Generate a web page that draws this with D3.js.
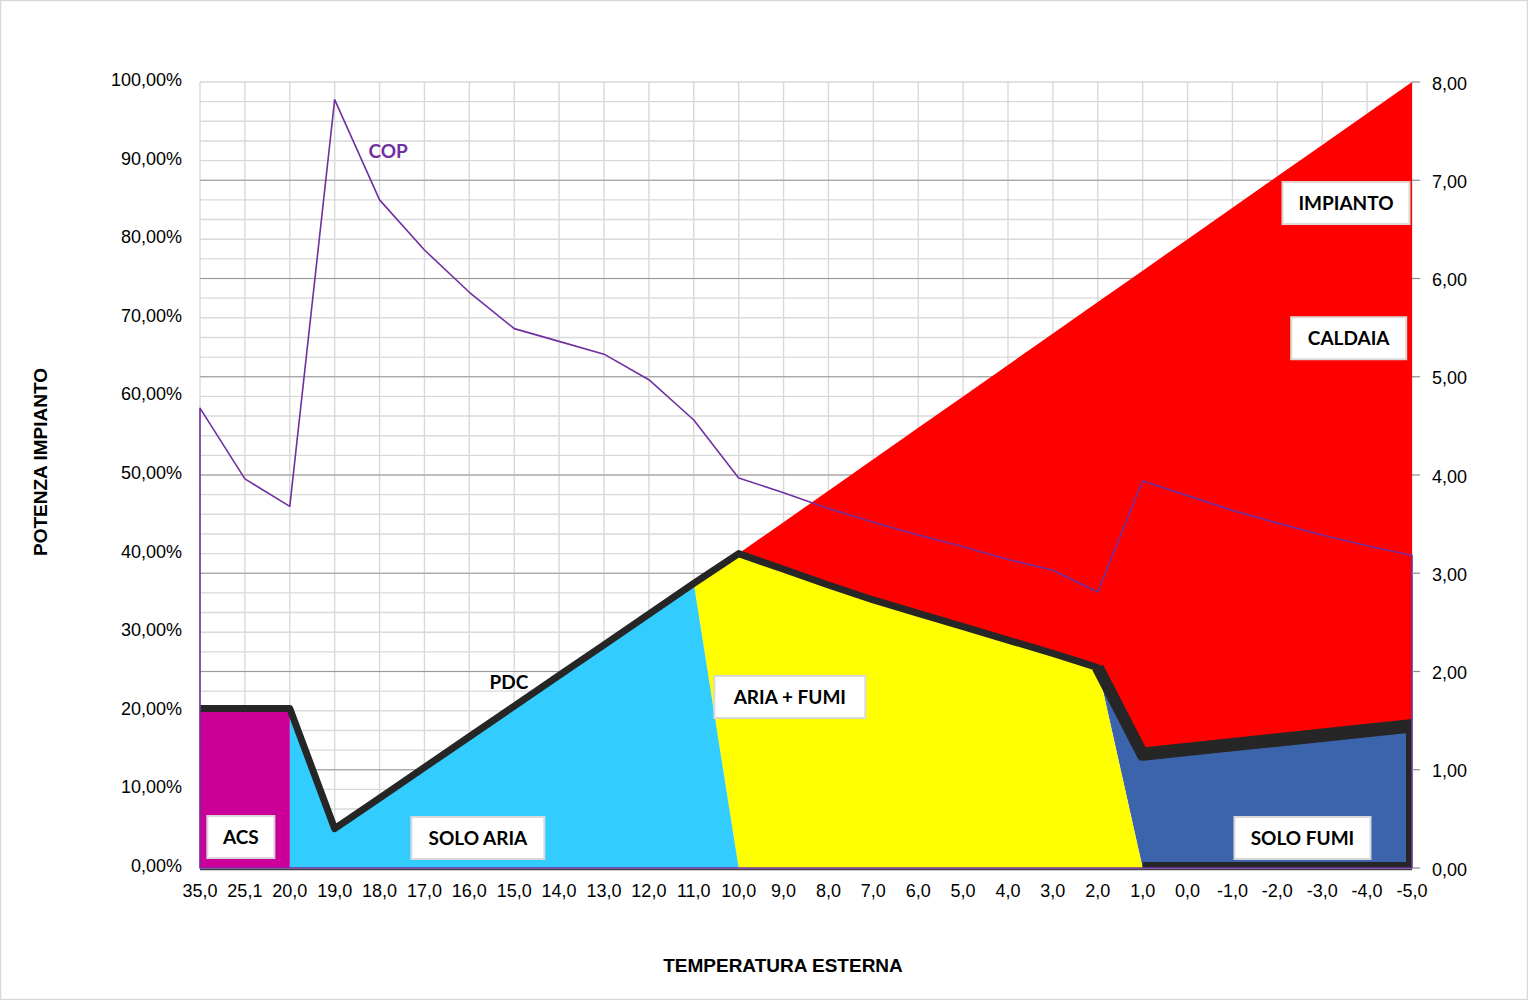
<!DOCTYPE html>
<html>
<head>
<meta charset="utf-8">
<script src="https://cdn.jsdelivr.net/npm/d3@7"></script>
<style>
  body { margin: 0; background: #fff; }
  svg { display: block; }
</style>
</head>
<body>
<svg id="chart" width="1528" height="1000"></svg>
<script>
// ---------------- DATA ----------------
const categories = [35.0, 25.1, 20.0, 19.0, 18.0, 17.0, 16.0, 15.0, 14.0, 13.0, 12.0, 11.0, 10.0,
  9.0, 8.0, 7.0, 6.0, 5.0, 4.0, 3.0, 2.0, 1.0, 0.0, -1.0, -2.0, -3.0, -4.0, -5.0];

// COP (right axis)
const cop = [4.68, 3.96, 3.68, 7.82, 6.80, 6.29, 5.86, 5.49, 5.36, 5.23, 4.97, 4.56, 3.97,
  3.82, 3.66, 3.52, 3.39, 3.27, 3.14, 3.03, 2.81, 3.94, 3.79, 3.64, 3.51, 3.39, 3.28, 3.18];

// PDC line (% of plant power)
const pdc = [20.3, 20.3, 20.3, 5.0, 8.9, 12.8, 16.7, 20.6, 24.5, 28.4, 32.3, 36.2, 40.0,
  38.0, 36.0, 34.1, 32.4, 30.7, 29.0, 27.3, 25.5, 14.9, 15.5, 16.1, 16.7, 17.3, 17.9, 18.5];

// IMPIANTO (total demand) from 10,0 to -5,0
const impiantoStart = 12;
const impianto = [40, 44, 48, 52, 56, 60, 64, 68, 72, 76, 80, 84, 88, 92, 96, 100];

// Area series: start index, bottom values, top values (%)
const acsStart = 0;
const acsBottom = [0, 0, 0];
const acsTop = [20.3, 20.3, 20.3];

const soloAriaStart = 2;
const soloAriaBottom = [0, 0, 0, 0, 0, 0, 0, 0, 0, 0, 0];
const soloAriaTop = [20.3, 5.0, 8.9, 12.8, 16.7, 20.6, 24.5, 28.4, 32.3, 36.2, 0];

const ariaFumiStart = 11;
const ariaFumiBottom = [36.2, 0, 0, 0, 0, 0, 0, 0, 0, 0, 0];
const ariaFumiTop = [36.2, 40.0, 38.0, 36.0, 34.1, 32.4, 30.7, 29.0, 27.3, 25.5, 0];

const soloFumiStart = 20;
const soloFumiBottom = [25.5, 0, 0, 0, 0, 0, 0, 0];
const soloFumiTop = [25.5, 14.4, 15.0, 15.6, 16.2, 16.8, 17.4, 18.0];

const leftTicks = [0, 10, 20, 30, 40, 50, 60, 70, 80, 90, 100];
const rightTicks = [0, 1, 2, 3, 4, 5, 6, 7, 8];

// Annotation labels (category index, % value)
const labelTexts = ["ACS", "SOLO ARIA", "ARIA + FUMI", "SOLO FUMI", "IMPIANTO", "CALDAIA"];

// ---------------- LAYOUT ----------------
const W = 1528, H = 1000;
const L = 200, R = 1412, T = 82, B = 868;
const svg = d3.select("#chart");

const loc = d3.formatLocale({decimal: ",", thousands: ".", grouping: [3], currency: ["€", ""], minus: "-"});
const fPct = v => loc.format(".2f")(v) + "%";
const fR = loc.format(".2f");
const fC = loc.format(".1f");

const x = d3.scalePoint().domain(d3.range(categories.length)).range([L, R]);
const yL = d3.scaleLinear().domain([0, 100]).range([B, T]);
const yR = d3.scaleLinear().domain([0, 8]).range([B, T]);

// outer frame
svg.append("rect").attr("x", 0.5).attr("y", 0.5).attr("width", W - 1).attr("height", H - 1)
  .attr("fill", "#fff").attr("stroke", "#d9d9d9").attr("stroke-width", 1.5);

svg.append("defs").append("clipPath").attr("id", "plotClip")
  .append("rect").attr("x", L).attr("y", T).attr("width", R - L).attr("height", B - T);

// gridlines
const grid = svg.append("g");
grid.selectAll(".hmin").data(d3.range(0, 100.001, 2.5)).join("line")
  .attr("x1", L).attr("x2", R).attr("y1", d => yL(d)).attr("y2", d => yL(d))
  .attr("stroke", "#d9d9d9").attr("stroke-width", 1.4);
grid.selectAll(".vg").data(d3.range(categories.length)).join("line")
  .attr("x1", d => x(d)).attr("x2", d => x(d)).attr("y1", T).attr("y2", B)
  .attr("stroke", "#d9d9d9").attr("stroke-width", 1.4);
grid.selectAll(".hmaj").data(rightTicks.slice(1, -1)).join("line")
  .attr("x1", L).attr("x2", R).attr("y1", d => yR(d)).attr("y2", d => yR(d))
  .attr("stroke", "#9a9a9a").attr("stroke-width", 1.2);

// areas
function seriesPts(start, bottom, top) {
  return top.map((t, k) => ({i: start + k, y0: bottom[k], y1: t}));
}
const areaGen = d3.area().x(d => x(d.i)).y0(d => yL(d.y0)).y1(d => yL(d.y1));
const areas = svg.append("g").attr("clip-path", "url(#plotClip)");

const impPts = impianto.map((v, k) => ({i: impiantoStart + k, y0: pdc[impiantoStart + k], y1: v}));
areas.append("path").attr("d", areaGen(impPts)).attr("fill", "#FF0000");
areas.append("path").attr("d", areaGen(seriesPts(soloFumiStart, soloFumiBottom, soloFumiTop))).attr("fill", "#3C64AC");
areas.append("path").attr("d", areaGen(seriesPts(ariaFumiStart, ariaFumiBottom, ariaFumiTop))).attr("fill", "#FFFF00");
areas.append("path").attr("d", areaGen(seriesPts(soloAriaStart, soloAriaBottom, soloAriaTop))).attr("fill", "#33CCFF");
areas.append("path").attr("d", areaGen(seriesPts(acsStart, acsBottom, acsTop))).attr("fill", "#CC0099");

// blue outline (top, right, bottom)
const sfPts = seriesPts(soloFumiStart, soloFumiBottom, soloFumiTop);
const outline = sfPts.map(d => [x(d.i), yL(d.y1)]);
const last = sfPts[sfPts.length - 1];
outline.push([x(last.i), yL(0)]);
outline.push([x(sfPts[1].i), yL(0)]);
areas.append("path").attr("d", d3.line()(outline)).attr("fill", "none")
  .attr("stroke", "#262626").attr("stroke-width", 12).attr("stroke-linejoin", "round");

// PDC line
const lineGen = d3.line().x((d, k) => x(k)).y(d => yL(d));
areas.append("path").attr("d", lineGen(pdc)).attr("fill", "none")
  .attr("stroke", "#262626").attr("stroke-width", 7).attr("stroke-linejoin", "round");

// bottom axis line
svg.append("line").attr("x1", L).attr("x2", R).attr("y1", B + 1.5).attr("y2", B + 1.5)
  .attr("stroke", "#404040").attr("stroke-width", 1.5);

// COP line (closed to the baseline at both ends)
const copPts = [[x(0), yR(0)]].concat(cop.map((v, k) => [x(k), yR(v)]), [[x(cop.length - 1), yR(0)]]);
svg.append("path").attr("d", d3.line()(copPts) + "Z").attr("fill", "none")
  .attr("stroke", "#7030A0").attr("stroke-width", 1.6).attr("stroke-linejoin", "round");

// left tick labels
svg.append("g").selectAll("text").data(leftTicks).join("text")
  .attr("x", 182).attr("y", d => yL(d) + 4).attr("text-anchor", "end")
  .attr("font-family", "Liberation Sans, Arial, sans-serif").attr("font-size", 18)
  .attr("fill", "#000").text(d => fPct(d));

// right ticks + labels
const rg = svg.append("g");
rg.selectAll("line").data(rightTicks).join("line")
  .attr("x1", R).attr("x2", R + 8).attr("y1", d => yR(d)).attr("y2", d => yR(d))
  .attr("stroke", "#8c8c8c").attr("stroke-width", 1.2);
rg.selectAll("text").data(rightTicks).join("text")
  .attr("x", 1432).attr("y", d => yR(d) + 7.5)
  .attr("font-family", "Liberation Sans, Arial, sans-serif").attr("font-size", 18)
  .attr("fill", "#000").text(d => fR(d));

// category labels
svg.append("g").selectAll("text").data(categories).join("text")
  .attr("x", (d, k) => x(k)).attr("y", 897).attr("text-anchor", "middle")
  .attr("font-family", "Liberation Sans, Arial, sans-serif").attr("font-size", 18)
  .attr("fill", "#000").text(d => fC(d));

// axis titles
svg.append("text").attr("transform", "translate(46.5,462) rotate(-90)")
  .attr("text-anchor", "middle").attr("font-family", "Liberation Sans, Arial, sans-serif")
  .attr("font-weight", "bold").attr("font-size", 19).text("POTENZA IMPIANTO");
svg.append("text").attr("x", 783).attr("y", 972)
  .attr("text-anchor", "middle").attr("font-family", "Liberation Sans, Arial, sans-serif")
  .attr("font-weight", "bold").attr("font-size", 19).text("TEMPERATURA ESTERNA");

// annotation boxes
const boxLayout = [
  {i: 0.91, v: 3.94, w: 67},
  {i: 6.19, v: 3.82, w: 133},
  {i: 13.14, v: 21.76, w: 151},
  {i: 24.56, v: 3.82, w: 136},
  {i: 25.53, v: 84.6, w: 127},
  {i: 25.59, v: 67.4, w: 115}
];
const xi = i => L + i * x.step();
const boxes = svg.append("g");
labelTexts.forEach((t, k) => {
  const b = boxLayout[k];
  const cx = xi(b.i), cy = yL(b.v);
  boxes.append("rect").attr("x", cx - b.w / 2).attr("y", cy - 21).attr("width", b.w).attr("height", 42)
    .attr("fill", "#fff").attr("stroke", "#d9d9d9").attr("stroke-width", 2);
  boxes.append("text").attr("x", cx).attr("y", cy + 7).attr("text-anchor", "middle")
    .attr("font-family", "Lato, Open Sans, sans-serif").attr("font-weight", "bold")
    .attr("font-size", 19).attr("fill", "#000").text(t);
});

// free labels
svg.append("text").attr("x", xi(6.88)).attr("y", yL(23.66) + 7).attr("text-anchor", "middle")
  .attr("font-family", "Lato, Open Sans, sans-serif").attr("font-weight", "bold")
  .attr("font-size", 19).attr("fill", "#000").text("PDC");
svg.append("text").attr("x", xi(4.19)).attr("y", yL(91.2) + 7).attr("text-anchor", "middle")
  .attr("font-family", "Lato, Open Sans, sans-serif").attr("font-weight", "bold")
  .attr("font-size", 19).attr("fill", "#7030A0").text("COP");
</script>
</body>
</html>
